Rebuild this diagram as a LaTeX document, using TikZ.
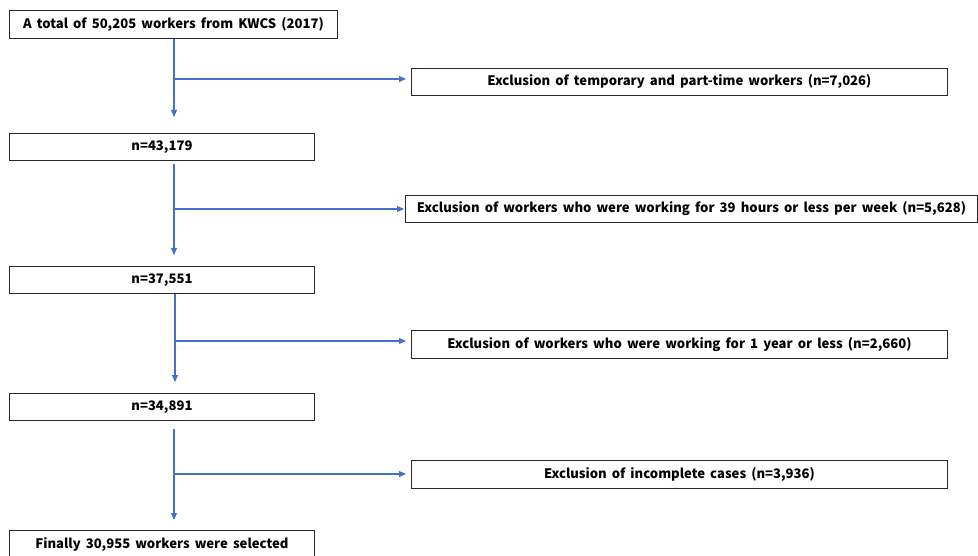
\documentclass[tikz,border=0pt]{standalone}
\usepackage{fontspec}
\setmainfont{Noto Sans CJK KR}[WordSpace=1.7]
\usetikzlibrary{arrows.meta}
\definecolor{flowblue}{RGB}{68,114,196}
\definecolor{boxline}{RGB}{40,40,40}
\tikzset{
  box/.style={draw=boxline, line width=0.9pt, rectangle, inner sep=0pt, anchor=north west, font=\fontsize{13.1}{15}\selectfont\bfseries},
  arr/.style={draw=flowblue, line width=1.1pt, -{Triangle[length=7pt,width=6pt]}},
}
\begin{document}
\begin{tikzpicture}[x=1pt,y=-1pt]
\useasboundingbox (0,0) rectangle (978,556);
% main column
\node[box, minimum width=328pt, minimum height=28pt] (b1) at (9,10) {A total of 50,205 workers from KWCS (2017)};
\node[box, minimum width=305pt, minimum height=27pt] (b2) at (9,133) {n=43,179};
\node[box, minimum width=305pt, minimum height=27pt] (b3) at (9,266) {n=37,551};
\node[box, minimum width=305pt, minimum height=27pt] (b4) at (9,393) {n=34,891};
\node[box, minimum width=305pt, minimum height=28pt] (b5) at (9,530) {Finally 30,955 workers were selected};
% exclusion boxes
\node[box, minimum width=536pt, minimum height=27pt] (e1) at (411,68) {Exclusion of temporary and part-time workers (n=7,026)};
\node[box, minimum width=572pt, minimum height=27pt] (e2) at (405,195) {Exclusion of workers who were working for 39 hours or less per week (n=5,628)};
\node[box, minimum width=536pt, minimum height=28pt] (e3) at (411,330) {Exclusion of workers who were working for 1 year or less (n=2,660)};
\node[box, minimum width=536pt, minimum height=28pt] (e4) at (411,460) {Exclusion of incomplete cases (n=3,936)};
% junctions
\coordinate (j1) at (174,79);
\coordinate (j2) at (174,209);
\coordinate (j3) at (175,341);
\coordinate (j4) at (174,474);
% vertical flow
\draw[arr, shorten >=16pt] (b1.south -| j1) -- (b2.north -| j1);
\draw[arr, shorten <=3pt, shorten >=11pt] (b2.south -| j2) -- (b3.north -| j2);
\draw[arr, shorten >=11pt] (b3.south -| j3) -- (b4.north -| j3);
\draw[arr, shorten <=8pt, shorten >=10pt] (b4.south -| j4) -- (b5.north -| j4);
% exclusions
\draw[arr, shorten >=5pt] (j1) -- (e1.west |- j1);
\draw[arr, shorten >=1pt] (j2) -- (e2.west |- j2);
\draw[arr, shorten >=5pt] (j3) -- (e3.west |- j3);
\draw[arr, shorten >=5pt] (j4) -- (e4.west |- j4);
\end{tikzpicture}
\end{document}
